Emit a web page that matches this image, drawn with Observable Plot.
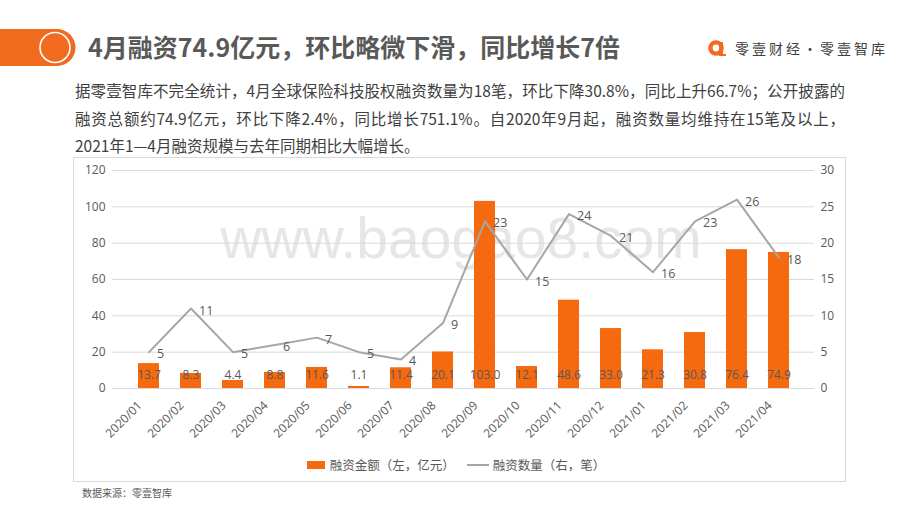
<!DOCTYPE html>
<html>
<head>
<meta charset="utf-8">
<script src="https://cdn.jsdelivr.net/npm/d3@7"></script>
<script src="https://cdn.jsdelivr.net/npm/@observablehq/plot@0.6"></script>
<style>
  html, body { margin: 0; padding: 0; background: #fff; }
  body { width: 920px; height: 518px; position: relative; overflow: hidden;
         font-family: "Noto Sans CJK SC", "Noto Sans", sans-serif; }
  .abs { position: absolute; }
  #title { left: 88px; top: 30px; font-size: 25px; font-weight: bold; color: #595959; line-height: 32px; white-space: nowrap; }
  #logo { left: 708px; top: 38px; height: 20px; display: flex; align-items: center; }
  #logo span { font-size: 14px; color: #404040; letter-spacing: 3px; margin-left: 8px; white-space: nowrap; }
  .para { left: 75px; width: 770px; font-size: 15.5px; color: #404040; line-height: 22px; white-space: nowrap; }
  .just { text-align: justify; text-align-last: justify; }
  #frame { left: 73px; top: 157px; width: 773px; height: 325px; border: 1px solid #d9d9d9; box-sizing: border-box; }
  #watermark { left: 0; width: 922px; top: 210px; text-align: center; font-family: "Liberation Sans", Arial, sans-serif;
               font-size: 57px; line-height: 57px; color: #e6e6e6; white-space: nowrap; }
  #chart { left: 74px; top: 158px; }
  #legend { left: 0; width: 912px; top: 455px; display: flex; justify-content: center; align-items: center;
            font-size: 12.5px; color: #595959; white-space: nowrap; }
  #legend .sw { display: inline-block; width: 18px; height: 8px; background: #f5690f; margin-right: 5px; }
  #legend .ln { display: inline-block; width: 22px; height: 2px; background: #a6a6a6; margin: 0 4px 0 12px; }
  #source { left: 82px; top: 485px; font-size: 10px; color: #595959; line-height: 16px; }
</style>
</head>
<body>
<script>
// ---- data ----
const months = ["2020/01","2020/02","2020/03","2020/04","2020/05","2020/06","2020/07","2020/08",
                "2020/09","2020/10","2020/11","2020/12","2021/01","2021/02","2021/03","2021/04"];
const amounts = [13.7, 8.3, 4.4, 8.8, 11.6, 1.1, 11.4, 20.1, 103.0, 12.1, 48.6, 33.0, 21.3, 30.8, 76.4, 74.9];
const counts  = [5, 11, 5, 6, 7, 5, 4, 9, 23, 15, 24, 21, 16, 23, 26, 18];
const leftTicks  = [0, 20, 40, 60, 80, 100, 120];
const rightTicks = [0, 5, 10, 15, 20, 25, 30];
const titleText = "4月融资74.9亿元，环比略微下滑，同比增长7倍";
const brandText = "零壹财经·零壹智库";
const paraLines = [
  "据零壹智库不完全统计，4月全球保险科技股权融资数量为18笔，环比下降30.8%，同比上升66.7%；公开披露的",
  "融资总额约74.9亿元，环比下降2.4%，同比增长751.1%。自2020年9月起，融资数量均维持在15笔及以上，",
  "2021年1—4月融资规模与去年同期相比大幅增长。"
];
const legendAmount = "融资金额（左，亿元）";
const legendCount  = "融资数量（右，笔）";
const sourceText = "数据来源：零壹智库";
const watermarkText = "www.baogao8.com";

const ORANGE = "#f5690f";
const GREY = "#a6a6a6";
const ratio = leftTicks[leftTicks.length - 1] / rightTicks[rightTicks.length - 1];

const rows = months.map((m, i) => ({month: m, amount: amounts[i], count: counts[i]}));

// ---- header ----
const hdr = document.createElement("div");
hdr.innerHTML = `
<svg class="abs" style="left:0;top:0" width="90" height="80">
  <path d="M0,29 H57 A18.5,18.5 0 0 1 57,66 H0 Z" fill="#f26a1e"/>
  <circle cx="55" cy="47.5" r="15" fill="none" stroke="#fff" stroke-width="1.6"/>
</svg>
<div id="title" class="abs"></div>
<div id="logo" class="abs">
  <svg width="19" height="16" viewBox="0 0 19 16">
    <circle cx="8" cy="8" r="5.6" fill="none" stroke="#f26a1e" stroke-width="4.4"/>
    <path d="M13,2 V16 H18" fill="none" stroke="#f26a1e" stroke-width="4"/>
  </svg>
  <span></span>
</div>`;
document.body.appendChild(hdr);
document.getElementById("title").textContent = titleText;
document.querySelector("#logo span").textContent = brandText;

paraLines.forEach((t, i) => {
  const d = document.createElement("div");
  d.className = "abs para" + (i < paraLines.length - 1 ? " just" : "");
  d.style.top = (79 + i * 27.5) + "px";
  d.textContent = t;
  document.body.appendChild(d);
});

const frame = document.createElement("div");
frame.id = "frame"; frame.className = "abs";
document.body.appendChild(frame);

const wm = document.createElement("div");
wm.id = "watermark"; wm.className = "abs";
wm.textContent = watermarkText;
document.body.appendChild(wm);

// ---- chart ----
const chart = Plot.plot({
  width: 772,
  height: 290,
  marginLeft: 38,
  marginRight: 32,
  marginTop: 12,
  marginBottom: 60,
  style: {fontFamily: "'Open Sans', 'Noto Sans', sans-serif", fontSize: "12px", color: "#595959", background: "transparent"},
  x: {domain: months, padding: 0.5, label: null},
  y: {domain: [0, leftTicks[leftTicks.length - 1]], label: null},
  marks: [
    Plot.gridY(leftTicks, {stroke: "#d9d9d9", strokeOpacity: 1, strokeWidth: 1}),
    Plot.axisY(leftTicks, {anchor: "left", tickSize: 0, tickPadding: 7, label: null, fontSize: 12}),
    Plot.axisY(rightTicks.map(d => d * ratio), {anchor: "right", tickSize: 0, tickPadding: 6,
      tickFormat: d => String(d / ratio), label: null, fontSize: 12}),
    Plot.axisX({tickRotate: -45, tickSize: 0, tickPadding: 9, dx: -9, dy: 6, label: null, fontSize: 12}),
    Plot.barY(rows, {x: "month", y: "amount", fill: ORANGE}),
    Plot.text(rows, {x: "month", y: 0, text: d => d.amount.toFixed(1), dy: -13, fill: "#595959", fontSize: 12}),
    Plot.lineY(rows, {x: "month", y: d => d.count * ratio, stroke: GREY, strokeWidth: 2}),
    Plot.text(rows, {x: "month", y: d => d.count * ratio, text: d => String(d.count), textAnchor: "start",
      dx: 8, dy: 2, fill: "#595959", fontSize: 12.5})
  ]
});
chart.classList.add("abs");
chart.id = "chart";
document.body.appendChild(chart);

// ---- legend & source ----
const lg = document.createElement("div");
lg.id = "legend"; lg.className = "abs";
lg.innerHTML = `<span class="sw"></span><span id="l1"></span><span class="ln"></span><span id="l2"></span>`;
document.body.appendChild(lg);
document.getElementById("l1").textContent = legendAmount;
document.getElementById("l2").textContent = legendCount;

const src = document.createElement("div");
src.id = "source"; src.className = "abs";
src.textContent = sourceText;
document.body.appendChild(src);
</script>
</body>
</html>
